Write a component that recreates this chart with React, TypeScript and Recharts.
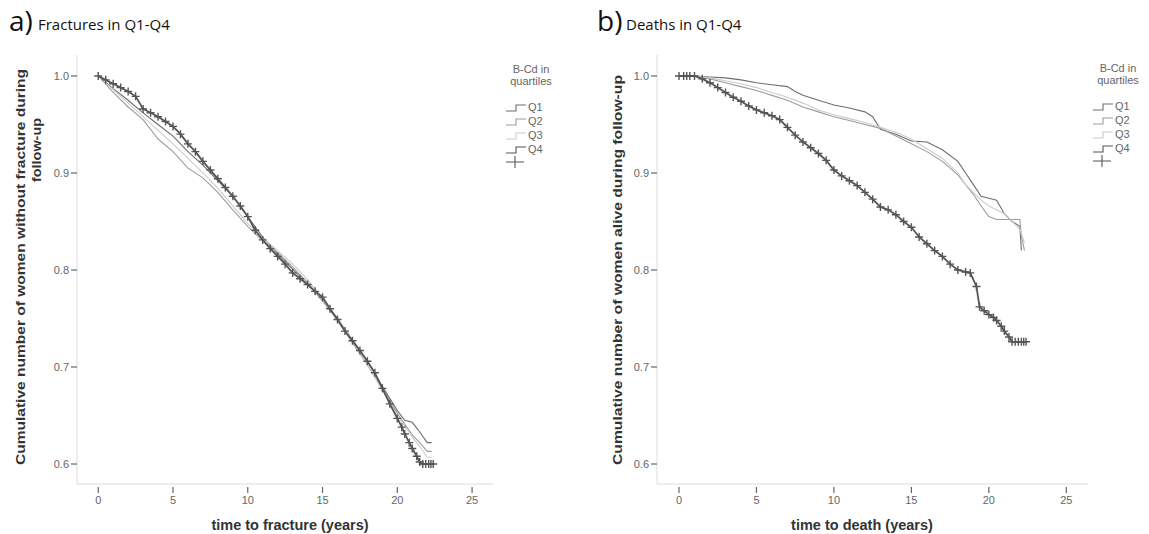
import { LineChart, Line, XAxis, YAxis } from 'recharts';

// ---- panel a: fractures ----
const aQ1T = [0, 1, 2, 3, 4, 5, 6, 7, 8, 9, 10, 11, 12, 13, 14, 15, 16, 17, 18, 19, 20, 20.5, 21, 21.5, 22, 22.3];
const aQ1S = [1.0, 0.987, 0.975, 0.962, 0.95, 0.938, 0.922, 0.908, 0.892, 0.876, 0.855, 0.834, 0.816, 0.801, 0.785, 0.77, 0.75, 0.728, 0.706, 0.68, 0.655, 0.645, 0.643, 0.633, 0.622, 0.622];

const aQ2T = [0, 1, 2, 3, 4, 5, 6, 7, 8, 9, 10, 11, 12, 13, 14, 15, 16, 17, 18, 19, 20, 21, 21.5, 22, 22.3];
const aQ2S = [1.0, 0.983, 0.968, 0.955, 0.935, 0.922, 0.905, 0.895, 0.88, 0.862, 0.845, 0.83, 0.818, 0.803, 0.787, 0.768, 0.748, 0.725, 0.702, 0.678, 0.652, 0.63, 0.622, 0.613, 0.613];

const aQ3T = [0, 1, 2, 3, 4, 5, 6, 7, 8, 9, 10, 11, 12, 13, 14, 15, 16, 17, 18, 19, 20, 21, 21.5, 22, 22.3];
const aQ3S = [1.0, 0.986, 0.972, 0.958, 0.944, 0.93, 0.915, 0.9, 0.884, 0.866, 0.848, 0.833, 0.82, 0.806, 0.79, 0.77, 0.75, 0.728, 0.702, 0.676, 0.65, 0.628, 0.618, 0.607, 0.607];

const aQ4T = [0, 0.5, 1, 1.5, 2, 2.5, 3, 3.5, 4, 4.5, 5, 5.5, 6, 6.5, 7, 7.5, 8, 8.5, 9, 9.5, 10, 10.5, 11, 11.5, 12, 12.5, 13, 13.5, 14, 14.5, 15, 15.5, 16, 16.5, 17, 17.5, 18, 18.5, 19, 19.5, 20, 20.3, 20.5, 20.8, 21, 21.3, 21.5, 21.7, 21.9, 22.1, 22.25, 22.4];
const aQ4S = [1.0, 0.996, 0.992, 0.988, 0.984, 0.979, 0.966, 0.962, 0.958, 0.953, 0.948, 0.94, 0.93, 0.922, 0.912, 0.903, 0.894, 0.885, 0.876, 0.866, 0.855, 0.841, 0.831, 0.822, 0.814, 0.806, 0.797, 0.791, 0.785, 0.778, 0.772, 0.76, 0.749, 0.737, 0.727, 0.717, 0.706, 0.694, 0.678, 0.662, 0.647, 0.638, 0.631, 0.622, 0.616, 0.608, 0.602, 0.6, 0.6, 0.6, 0.6, 0.6];

// ---- panel b: deaths ----
const bQ1T = [0, 1, 2, 3, 4, 5, 6, 7, 7.5, 8, 9, 10, 11, 12, 12.5, 13, 14, 15, 16, 17, 18, 18.5, 19, 19.5, 20, 20.5, 21, 21.5, 22, 22.1];
const bQ1S = [1.0, 1.0, 0.999, 0.998, 0.996, 0.993, 0.991, 0.989, 0.984, 0.98, 0.975, 0.97, 0.967, 0.963, 0.958, 0.945, 0.94, 0.933, 0.932, 0.924, 0.912, 0.9, 0.888, 0.876, 0.874, 0.872, 0.858, 0.85, 0.845, 0.82];

const bQ2T = [0, 1, 2, 3, 4, 5, 6, 7, 8, 9, 10, 11, 12, 13, 14, 15, 16, 17, 18, 19, 19.5, 20, 20.5, 21, 22, 22.1, 22.3];
const bQ2S = [1.0, 1.0, 0.997, 0.993, 0.989, 0.985, 0.98, 0.975, 0.968, 0.963, 0.958, 0.954, 0.95, 0.946, 0.938, 0.93, 0.922, 0.912, 0.898, 0.878, 0.866, 0.855, 0.852, 0.852, 0.852, 0.835, 0.82];

const bQ3T = [0, 1, 2, 3, 4, 5, 6, 7, 8, 9, 10, 11, 12, 13, 14, 15, 16, 17, 18, 18.5, 19, 19.5, 20, 21, 21.5, 22, 22.3];
const bQ3S = [1.0, 1.0, 0.998, 0.995, 0.992, 0.988, 0.983, 0.978, 0.972, 0.965, 0.96, 0.956, 0.952, 0.947, 0.942, 0.935, 0.925, 0.915, 0.9, 0.888, 0.88, 0.872, 0.866, 0.858, 0.85, 0.842, 0.828];

const bQ4T = [0, 0.3, 0.5, 0.7, 1, 1.5, 2, 2.5, 3, 3.5, 4, 4.5, 5, 5.5, 6, 6.5, 7, 7.5, 8, 8.5, 9, 9.5, 10, 10.5, 11, 11.5, 12, 12.5, 13, 13.5, 14, 14.5, 15, 15.5, 16, 16.5, 17, 17.5, 18, 18.5, 18.8, 19.2, 19.4, 19.7, 20, 20.3, 20.5, 20.8, 21, 21.3, 21.5, 21.7, 21.9, 22.1, 22.25, 22.4];
const bQ4S = [1.0, 1.0, 1.0, 1.0, 1.0, 0.997, 0.993, 0.988, 0.983, 0.978, 0.974, 0.969, 0.965, 0.962, 0.959, 0.955, 0.947, 0.939, 0.932, 0.926, 0.92, 0.913, 0.903, 0.897, 0.892, 0.887, 0.88, 0.873, 0.865, 0.862, 0.857, 0.85, 0.844, 0.834, 0.827, 0.82, 0.814, 0.806, 0.8, 0.798, 0.797, 0.783, 0.762, 0.758, 0.754, 0.751, 0.748, 0.742, 0.737, 0.731, 0.726, 0.726, 0.726, 0.726, 0.726, 0.726];

const xTicks = [0, 5, 10, 15, 20, 25];
const yTicks = [0.6, 0.7, 0.8, 0.9, 1.0];
const legendItems = ['Q1', 'Q2', 'Q3', 'Q4'];

const colors = ['#6e6e6e', '#9c9c9c', '#cbcbcb', '#555555'];

const pts = (t: number[], s: number[]) => t.map((v, i) => ({ t: v, s: s[i] }));

const Cross = (props: any) => {
  const { cx, cy } = props;
  if (cx == null || cy == null) return null;
  return <path d={`M${cx - 4},${cy}h8M${cx},${cy - 4}v8`} stroke="#555" strokeWidth={1.4} fill="none" />;
};

const XTick = (props: any) => {
  const { x, y, payload } = props;
  return (
    <g>
      <line x1={x} x2={x} y1={y + 3} y2={y + 9} stroke="#666" strokeWidth={1.2} />
      <text x={x} y={y + 20} textAnchor="middle" fontSize={11} fill="#666" fontFamily="Liberation Sans, Arial">
        {payload.value}
      </text>
    </g>
  );
};

function KMPanel({ series, left, width }: { series: { t: number[]; s: number[] }[]; left: number; width: number }) {
  return (
    <div style={{ position: 'absolute', left, top: 0 }}>
      <LineChart width={width} height={534} margin={{ top: 55, right: 2, bottom: 20, left: 0 }}>
        <XAxis
          type="number"
          dataKey="t"
          domain={[-1.42, 26.4]}
          ticks={xTicks}
          allowDataOverflow
          height={30}
          tickSize={0}
          tickMargin={0}
          axisLine={{ stroke: '#dcdcdc' }}
          tickLine={false}
          tick={<XTick />}
        />
        <YAxis
          type="number"
          domain={[0.5794, 1.0216]}
          ticks={yTicks}
          allowDataOverflow
          width={77}
          tickSize={6}
          tickMargin={2}
          axisLine={{ stroke: '#dcdcdc' }}
          tickLine={{ stroke: '#666', strokeWidth: 1.2 }}
          tickFormatter={(v: number) => v.toFixed(1)}
          tick={{ fontSize: 11, fill: '#666', fontFamily: 'Liberation Sans, Arial' }}
        />
        {series.map((sr, i) => (
          <Line
            key={i}
            data={pts(sr.t, sr.s)}
            dataKey="s"
            type="linear"
            stroke={colors[i]}
            strokeWidth={i === 3 ? 1.8 : 1.1}
            dot={i === 3 ? <Cross /> : false}
            activeDot={false}
            isAnimationActive={false}
          />
        ))}
      </LineChart>
    </div>
  );
}

function Legend({ x, y }: { x: number; y: number }) {
  return (
    <g fontFamily="Liberation Sans, Arial" fontSize={11} fill="#666">
      <text x={x + 20} y={y} textAnchor="middle">B-Cd in</text>
      <text x={x + 20} y={y + 12} textAnchor="middle">quartiles</text>
      {legendItems.map((q, i) => (
        <g key={q}>
          <path
            d={`M${x - 5},${y + 38 + i * 14} h10 v-6 h10`}
            stroke={colors[i]}
            strokeWidth={1.1}
            fill="none"
          />
          <text x={x + 17} y={y + 38 + i * 14}>{q}</text>
        </g>
      ))}
      <path d={`M${x - 5},${y + 89}h18M${x + 4},${y + 83}v12`} stroke="#555" strokeWidth={1.1} fill="none" />
    </g>
  );
}

export default function App() {
  return (
    <div style={{ position: 'absolute', left: 0, top: 0, width: 1149, height: 534, background: '#fff' }}>
      <KMPanel
        left={0}
        width={495}
        series={[
          { t: aQ1T, s: aQ1S },
          { t: aQ2T, s: aQ2S },
          { t: aQ3T, s: aQ3S },
          { t: aQ4T, s: aQ4S },
        ]}
      />
      <KMPanel
        left={580}
        width={510}
        series={[
          { t: bQ1T, s: bQ1S },
          { t: bQ2T, s: bQ2S },
          { t: bQ3T, s: bQ3S },
          { t: bQ4T, s: bQ4S },
        ]}
      />
      <svg width={1149} height={534} style={{ position: 'absolute', left: 0, top: 0, pointerEvents: 'none' }}>
        <text x={9} y={31} fontFamily="Open Sans" fontSize={28} fill="#111">a)</text>
        <text x={38} y={30} fontFamily="Open Sans" fontSize={15} fill="#111">Fractures in Q1-Q4</text>
        <text x={597} y={31} fontFamily="Open Sans" fontSize={28} fill="#111">b)</text>
        <text x={626} y={30} fontFamily="Open Sans" fontSize={15} fill="#111">Deaths in Q1-Q4</text>

        <g fontFamily="Liberation Sans, Arial" fontSize={13.5} fontWeight="bold" fill="#333">
          <text transform="translate(25,267) rotate(-90)" textAnchor="middle" textLength={396} lengthAdjust="spacingAndGlyphs">
            Cumulative number of women without fracture during
          </text>
          <text transform="translate(41,150) rotate(-90)" textAnchor="middle" textLength={64} lengthAdjust="spacingAndGlyphs">
            follow-up
          </text>
          <text transform="translate(622,270) rotate(-90)" textAnchor="middle" textLength={390} lengthAdjust="spacingAndGlyphs">
            Cumulative number of women alive during follow-up
          </text>
          <text x={290} y={530} textAnchor="middle" fontSize={14.5}>time to fracture (years)</text>
          <text x={862} y={530} textAnchor="middle" fontSize={14.5}>time to death (years)</text>
        </g>

        <Legend x={511} y={73} />
        <Legend x={1098} y={72} />
      </svg>
    </div>
  );
}
